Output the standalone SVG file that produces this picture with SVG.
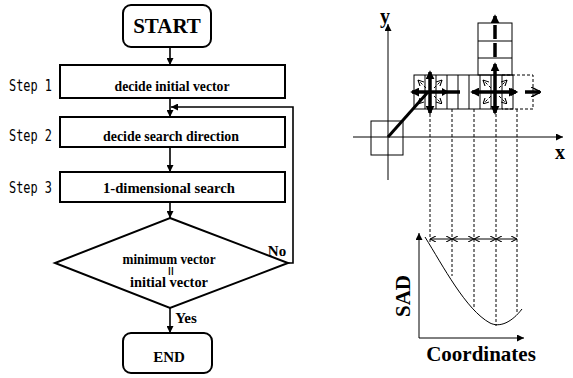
<svg xmlns="http://www.w3.org/2000/svg" width="573" height="378" viewBox="0 0 573 378">
<style>
.box{fill:#fff;stroke:#000;stroke-width:2}
.t{font-family:"Liberation Serif","Times New Roman",serif;font-weight:bold;fill:#000;text-anchor:middle}
.step{font-family:"DejaVu Sans Mono","Liberation Mono",monospace;font-size:15px;fill:#000}
.c{fill:none;stroke:#000;stroke-width:1.6}
.thin{fill:none;stroke:#000;stroke-width:1}
.dash{fill:none;stroke:#000;stroke-width:1;stroke-dasharray:3,2}
.thick{fill:none;stroke:#000;stroke-width:3.5}
</style>
<defs>
<marker id="ah" viewBox="0 0 10 10" refX="10" refY="5" markerWidth="7" markerHeight="7" markerUnits="userSpaceOnUse" orient="auto"><path d="M0,0 L10,5 L0,10 z" fill="#000"/></marker>
<marker id="ahs" viewBox="0 0 10 10" refX="10" refY="5" markerWidth="6" markerHeight="6" markerUnits="userSpaceOnUse" orient="auto-start-reverse"><path d="M0,0 L10,5 L0,10" fill="none" stroke="#000" stroke-width="1.8"/></marker>
<marker id="ahb" viewBox="0 0 10 10" refX="8" refY="5" markerWidth="9" markerHeight="9" markerUnits="userSpaceOnUse" orient="auto-start-reverse"><path d="M0,0 L10,5 L0,10 z" fill="#000"/></marker>
<marker id="aho" viewBox="0 0 10 10" refX="9" refY="5" markerWidth="10" markerHeight="10" markerUnits="userSpaceOnUse" orient="auto"><path d="M0,0 L10,5 L0,10" fill="none" stroke="#000" stroke-width="1.5"/></marker>
</defs>

<g id="start"><rect class="box" x="123" y="5" width="88" height="42" rx="8"/><text class="t" x="167" y="33" font-size="21">START</text></g>
<g id="step1"><text class="step" x="9" y="91" textLength="43" lengthAdjust="spacingAndGlyphs">Step 1</text><rect class="box" x="60" y="65" width="225" height="33"/><text class="t" x="172" y="91" font-size="14.5" textLength="115" lengthAdjust="spacingAndGlyphs">decide initial vector</text></g>
<g id="step2"><text class="step" x="9" y="141" textLength="43" lengthAdjust="spacingAndGlyphs">Step 2</text><rect class="box" x="60" y="117" width="225" height="30"/><text class="t" x="171" y="141" font-size="14.5" textLength="136" lengthAdjust="spacingAndGlyphs">decide search direction</text></g>
<g id="step3"><text class="step" x="9" y="193" textLength="43" lengthAdjust="spacingAndGlyphs">Step 3</text><rect class="box" x="60" y="172" width="225" height="30"/><text class="t" x="169" y="193" font-size="14.5" textLength="132" lengthAdjust="spacingAndGlyphs">1-dimensional search</text></g>
<g id="decision"><polygon class="box" points="170,218 288,263 170,308 55,263"/><text class="t" x="169" y="264" font-size="14.5" textLength="93" lengthAdjust="spacingAndGlyphs">minimum vector</text><text class="t" x="0" y="0" font-size="17" transform="translate(165,271) rotate(90)">=</text><text class="t" x="169" y="287" font-size="14.5" textLength="78" lengthAdjust="spacingAndGlyphs">initial vector</text><text class="t" x="277" y="256" font-size="15">No</text><text class="t" x="186" y="323" font-size="15">Yes</text></g>
<g id="end"><rect class="box" x="123" y="333" width="89" height="40" rx="8"/><text class="t" x="169" y="362" font-size="15">END</text></g>

<g id="connectors">
<line class="c" x1="170" y1="47" x2="170" y2="65" marker-end="url(#ah)"/>
<line class="c" x1="170" y1="98" x2="170" y2="117" marker-end="url(#ah)"/>
<line class="c" x1="170" y1="147" x2="170" y2="172" marker-end="url(#ah)"/>
<line class="c" x1="170" y1="202" x2="170" y2="218" marker-end="url(#ah)"/>
<line class="c" x1="170" y1="308" x2="170" y2="333" marker-end="url(#ah)"/>
<polyline class="c" points="288,263 293,263 293,107 171,107" marker-end="url(#ah)"/>
</g>

<g id="search-space">
<line class="thin" x1="388" y1="180" x2="388" y2="24" marker-end="url(#ah)"/>
<line class="thin" x1="353" y1="137" x2="563" y2="137" marker-end="url(#ah)"/>
<text class="t" x="385" y="23" font-size="20">y</text>
<text class="t" x="560" y="159" font-size="20">x</text>
<rect class="thin" x="371" y="121" width="32" height="34"/>
<line x1="388" y1="137" x2="428" y2="92" stroke="#000" stroke-width="3"/>
<rect class="thin" x="414" y="75" width="99" height="34"/>
<path class="thin" d="M425,75V109M436,75V109M447,75V109M458,75V109M469,75V109M480,75V109M491,75V109M502,75V109"/>
<rect class="thin" x="478" y="23" width="34" height="52"/>
<path class="thin" d="M478,41H512M478,58H512"/>
<path class="dash" d="M502,75H533V109H502"/>
<line class="thick" x1="460" y1="92" x2="412" y2="92" marker-end="url(#ahb)"/>
<line class="thick" x1="430" y1="72" x2="430" y2="113" marker-start="url(#ahb)" marker-end="url(#ahb)"/>
<line class="thick" x1="472" y1="92" x2="516" y2="92" marker-start="url(#ahb)" marker-end="url(#ahb)"/>
<line class="thick" x1="495" y1="64" x2="495" y2="113" marker-start="url(#ahb)" marker-end="url(#ahb)"/>
<line class="thick" x1="495" y1="57" x2="495" y2="16" stroke-dasharray="14,4" marker-end="url(#ahb)"/>
<line class="thick" x1="525" y1="92" x2="540" y2="92" stroke-width="3" marker-end="url(#aho)"/>
<path d="M442,88 L449,92 L442,96 z M511,88 L518,92 L511,96 z" fill="#000"/>
<g class="dash" stroke-dasharray="2,1.5">
<line x1="426" y1="88" x2="418" y2="80" marker-end="url(#ahs)"/>
<line x1="434" y1="88" x2="442" y2="80" marker-end="url(#ahs)"/>
<line x1="426" y1="96" x2="418" y2="104" marker-end="url(#ahs)"/>
<line x1="434" y1="96" x2="442" y2="104" marker-end="url(#ahs)"/>
<line x1="491" y1="88" x2="483" y2="80" marker-end="url(#ahs)"/>
<line x1="499" y1="88" x2="507" y2="80" marker-end="url(#ahs)"/>
<line x1="491" y1="96" x2="483" y2="104" marker-end="url(#ahs)"/>
<line x1="499" y1="96" x2="507" y2="104" marker-end="url(#ahs)"/>
</g>
</g>

<g id="sad-graph">
<path class="dash" d="M430,109V242M452,109V276M474,109V307M496,109V326M517,109V314"/>
<line class="thin" x1="419" y1="338" x2="419" y2="233" marker-end="url(#ah)"/>
<line class="thin" x1="419" y1="338" x2="524" y2="338" marker-end="url(#ah)"/>
<g class="thin" stroke-width="1.2">
<line x1="430" y1="239" x2="452" y2="239" marker-start="url(#ahs)" marker-end="url(#ahs)"/>
<line x1="452" y1="239" x2="474" y2="239" marker-start="url(#ahs)" marker-end="url(#ahs)"/>
<line x1="474" y1="239" x2="496" y2="239" marker-start="url(#ahs)" marker-end="url(#ahs)"/>
<line x1="496" y1="239" x2="517" y2="239" marker-start="url(#ahs)" marker-end="url(#ahs)"/>
</g>
<path class="thin" stroke-width="1.3" d="M425,237 C443,266 466,310 490,323 C500,328 512,322 522,309"/>
<text class="t" x="0" y="0" font-size="21" transform="translate(410,296) rotate(-90)">SAD</text>
<text class="t" x="481" y="361" font-size="21">Coordinates</text>
</g>
</svg>
